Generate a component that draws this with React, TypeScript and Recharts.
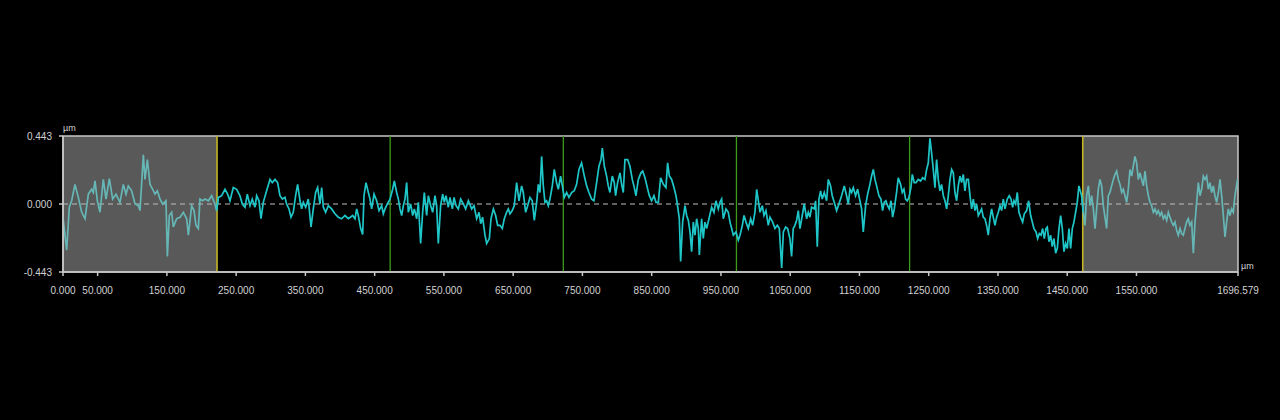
import React from "react";
import {
  ComposedChart,
  Line,
  XAxis,
  YAxis,
  ReferenceLine,
  ReferenceArea,
} from "recharts";

// Profile samples: [position µm, height µm]
const PROFILE_0_210: [number, number][] = [
  [0, -0.086], [5.3, -0.3], [9.1, -0.021], [12.5, 0.021], [17.3, 0.128], [22.1, 0.043],
  [27.0, -0.054], [31.8, -0.096], [36.6, 0.064], [41.4, 0.096], [43.8, 0.075], [46.2, 0.15],
  [49.6, 0.021], [53.4, -0.054], [58.2, 0.16], [62.1, 0.032], [66.9, 0.165], [71.7, 0.032],
  [76.5, 0.064], [82.3, 0.011], [87.1, 0.128], [91.0, 0.064], [94.3, 0.118], [99.1, 0.086],
  [104.0, 0], [108.8, -0.011], [111.2, -0.043], [116.0, 0.321], [118.4, 0.16], [121.8, 0.289],
  [125.6, 0.128], [129.5, 0.096], [132.8, 0.064], [136.2, 0.086], [140.1, 0.032], [143.9, 0],
  [148.7, 0.021], [150.7, -0.342], [153.5, -0.075], [156.9, -0.054], [159.3, -0.15],
  [164.1, -0.096], [169.0, -0.086], [173.8, -0.054], [178.6, -0.096], [181.0, -0.203],
  [185.8, -0.011], [189.2, -0.043], [192.0, -0.139], [195.4, -0.16], [197.8, 0.032],
  [201.7, 0.021], [205.0, 0.032], [209.9, 0.021],
];
const PROFILE_210_420: [number, number][] = [
  [214.6, 0.054], [219.4, 0], [221.8, -0.043], [224.3, 0.043], [229.1, 0.054], [233.9, 0.096],
  [237.7, 0.064], [241.1, 0.021], [245.9, 0.107], [250.7, 0.096], [255.5, 0.054], [258.9, 0],
  [262.8, -0.021], [266.1, 0.064], [270.0, -0.011], [273.3, 0.032], [277.2, -0.021],
  [279.6, 0.054], [283.0, 0.021], [285.9, -0.096], [289.2, 0.011], [294.0, 0.086],
  [298.9, 0.16], [302.2, 0.139], [306.1, 0.16], [309.9, 0.139], [313.3, 0.054], [316.7, 0.032],
  [320.5, 0.043], [322.9, 0], [326.3, -0.032], [329.2, -0.086], [332.5, -0.054], [335.9, 0.054],
  [338.8, 0.128], [342.2, 0.021], [344.6, -0.032], [347.0, 0.011], [350.4, -0.021],
  [354.2, 0.032], [358.1, -0.15], [361.4, -0.032], [364.8, 0.075], [367.7, 0.107], [371.0, 0],
  [373.5, 0.107], [375.9, -0.021], [379.2, -0.054], [383.1, -0.011], [387.9, -0.032],
  [392.7, -0.064], [397.5, -0.086], [402.3, -0.096], [407.1, -0.075], [412.0, -0.096],
];
const PROFILE_420_630: [number, number][] = [
  [418.3, -0.075], [421.6, -0.096], [424.0, -0.032], [426.4, -0.075], [429.8, -0.16],
  [432.7, -0.199], [434.6, 0.054], [437.5, 0.139], [440.9, 0.075], [443.3, 0.032],
  [445.7, -0.032], [449.1, 0.064], [452.9, 0.021], [456.3, -0.043], [460.1, -0.011],
  [462.5, -0.064], [465.0, -0.032], [468.3, 0], [472.2, 0.032], [476.0, 0.096], [478.4, 0.15],
  [481.8, 0.075], [484.2, 0.032], [486.6, -0.032], [489.0, -0.075], [491.4, -0.011],
  [493.8, 0.032], [496.2, 0.139], [498.6, -0.054], [502.0, 0], [504.9, -0.075], [507.3, -0.032],
  [510.7, -0.096], [513.1, 0.011], [516.4, -0.257], [519.3, -0.054], [521.7, 0.075],
  [525.1, -0.075], [527.5, 0.054], [530.9, -0.011], [533.8, -0.054], [537.1, 0.054],
  [539.5, -0.011], [541.9, -0.257], [545.3, -0.011], [548.2, 0.064], [550.6, 0.011],
  [553.0, 0.054], [556.4, -0.021], [558.8, 0.043], [562.2, -0.032], [564.6, 0.043],
  [567.5, -0.011], [570.8, -0.032], [574.2, 0.032], [578.0, 0], [581.4, -0.032], [585.3, 0.021],
  [590.1, -0.032], [593.4, -0.011], [597.3, -0.096], [600.7, -0.054], [603.1, -0.128],
  [605.9, -0.086], [609.3, -0.203], [611.7, -0.257], [615.6, -0.225], [618.0, -0.096],
  [621.4, -0.032], [624.7, -0.075], [627.6, -0.139],
];
const PROFILE_630_835: [number, number][] = [
  [630.9, -0.139], [634.3, -0.16], [637.2, -0.096], [640.5, -0.054], [643.0, -0.032],
  [645.4, -0.064], [648.7, -0.043], [651.6, -0.011], [655.0, 0.139], [658.4, 0.021],
  [662.2, 0.118], [664.6, 0.075], [668.0, -0.054], [670.9, -0.011], [674.2, 0.043],
  [677.6, 0.021], [680.5, -0.107], [683.9, 0.011], [686.3, 0.128], [688.7, 0.075], [691.1, 0.31],
  [693.5, 0.118], [695.9, 0.011], [698.3, 0.021], [700.7, -0.011], [703.1, 0.032],
  [706.5, 0.118], [709.4, 0.225], [712.7, 0.139], [715.2, 0.096], [718.5, 0.182], [721.4, 0.107],
  [723.8, 0.043], [727.2, 0.075], [730.5, 0.043], [734.4, 0.075], [738.2, 0.086], [741.6, 0.128],
  [745.0, 0.225], [748.8, 0.268], [752.7, 0.182], [756.1, 0.118], [759.4, 0.075], [763.3, 0.032],
  [766.6, 0.021], [770.5, 0.139], [773.9, 0.246], [776.8, 0.289], [778.7, 0.364], [781.6, 0.246],
  [784.9, 0.182], [787.3, 0.118], [789.7, 0.075], [793.1, 0.182], [796.0, 0.139], [797.9, 0.054],
  [800.8, 0.139], [804.2, 0.203], [806.6, 0.128], [809.0, 0.075], [811.4, 0.289], [815.3, 0.289],
  [818.6, 0.246], [822.0, 0.16], [824.9, 0.107], [827.3, 0.054], [830.7, 0.16], [834.5, 0.203],
];
const PROFILE_835_1045: [number, number][] = [
  [837.0, 0.214], [840.3, 0.171], [843.7, 0.107], [846.6, 0.054], [849.9, 0.021], [853.3, 0.054],
  [856.2, 0.011], [859.6, 0.011], [862.9, 0.171], [866.8, 0.128], [870.6, 0.107], [873.0, 0.268],
  [875.5, 0.182], [878.8, 0.16], [882.2, 0.107], [885.1, 0.054], [887.0, 0], [889.9, -0.096],
  [891.8, -0.375], [894.7, -0.118], [898.1, -0.011], [900.5, -0.075], [902.9, -0.107],
  [905.3, -0.182], [907.7, -0.31], [910.1, -0.118], [912.5, -0.203], [914.9, -0.096],
  [917.3, -0.16], [918.8, -0.332], [922.1, -0.096], [924.5, -0.225], [926.9, -0.118],
  [929.4, -0.16], [932.7, -0.096], [936.6, -0.021], [939.9, -0.054], [942.8, 0.021],
  [946.2, -0.032], [948.6, 0.011], [951.0, 0.032], [953.4, -0.096], [957.3, -0.032],
  [960.6, -0.054], [963.1, -0.118], [965.5, -0.16], [967.9, -0.203], [971.7, -0.182],
  [975.1, -0.235], [977.5, -0.203], [980.9, -0.139], [983.3, -0.075], [986.2, -0.118],
  [989.5, -0.16], [992.9, -0.096], [995.8, -0.139], [999.1, -0.054], [1001.6, 0.096],
  [1004.0, 0.021], [1006.4, -0.054], [1009.7, -0.011], [1012.1, -0.075], [1015.0, -0.043],
  [1018.4, -0.139], [1020.8, -0.086], [1024.7, -0.118], [1028.0, -0.16], [1031.4, -0.139],
  [1034.3, -0.16], [1037.7, -0.417], [1040.1, -0.182], [1043.4, -0.15],
];
const PROFILE_1045_1252: [number, number][] = [
  [1046.3, -0.16], [1049.6, -0.225], [1052.0, -0.342], [1054.4, -0.16], [1056.8, -0.139],
  [1059.2, -0.107], [1061.7, -0.043], [1064.1, -0.16], [1067.4, -0.075], [1070.3, 0],
  [1073.7, -0.096], [1076.1, -0.054], [1078.5, -0.086], [1080.9, -0.021], [1084.8, -0.032],
  [1086.7, 0.021], [1089.1, -0.278], [1091.5, 0.032], [1093.9, 0.086], [1096.3, 0.032],
  [1099.2, 0.075], [1102.6, 0.021], [1105.0, 0.16], [1108.3, 0.118], [1110.7, 0.054],
  [1113.6, 0.011], [1117.0, -0.043], [1120.4, 0], [1124.2, 0.054], [1128.1, 0.118],
  [1131.4, 0.054], [1133.9, 0], [1136.3, 0.096], [1138.7, 0.075], [1141.1, 0.107],
  [1144.4, 0.054], [1147.3, 0.096], [1150.7, 0.021], [1153.1, -0.032], [1155.5, -0.182],
  [1158.9, -0.011], [1161.8, 0.064], [1165.1, 0.128], [1167.5, 0.182], [1170.0, 0.225],
  [1172.4, 0.16], [1174.8, 0.118], [1178.1, 0.054], [1181.0, 0.032], [1183.4, -0.043],
  [1185.8, 0.011], [1188.2, 0.021], [1190.6, -0.011], [1193.0, -0.032], [1195.5, 0.021],
  [1197.9, -0.086], [1200.3, -0.032], [1203.6, 0.075], [1206.0, 0.171], [1209.4, 0.128],
  [1211.8, 0.075], [1214.2, 0.096], [1216.6, 0.032], [1219.0, 0.021], [1221.5, 0.043],
  [1224.3, 0.107], [1226.3, 0.193], [1229.1, 0.139], [1231.6, 0.139], [1234.9, 0.16],
  [1238.3, 0.15], [1241.2, 0.171], [1244.5, 0.16], [1247.0, 0.225], [1249.4, 0.268],
  [1251.8, 0.428],
];
const PROFILE_1252_1470: [number, number][] = [
  [1254.2, 0.332], [1256.6, 0.225], [1259.0, 0.107], [1261.4, 0.289], [1263.8, 0.16],
  [1266.2, 0.086], [1268.6, 0.128], [1271.1, 0.054], [1273.5, 0.021], [1275.9, -0.032],
  [1278.3, 0.054], [1280.7, 0.16], [1283.1, 0.225], [1285.5, 0.203], [1287.9, 0.075],
  [1290.3, 0.021], [1292.7, 0.118], [1295.1, 0.182], [1297.5, 0.139], [1299.9, 0.193],
  [1302.3, 0.086], [1304.7, 0.16], [1307.2, 0.16], [1309.6, 0.054], [1312.0, -0.032],
  [1314.4, 0.032], [1316.8, -0.043], [1319.2, 0], [1321.6, -0.075], [1324.0, -0.054],
  [1326.4, -0.032], [1328.8, -0.086], [1331.2, -0.096], [1333.6, -0.139], [1336.0, -0.203],
  [1338.4, -0.096], [1340.8, -0.032], [1343.2, -0.086], [1345.7, -0.139], [1348.1, -0.086],
  [1350.5, -0.054], [1352.9, -0.011], [1355.3, -0.043], [1357.7, 0.032], [1360.1, -0.032],
  [1363.5, 0.032], [1366.3, 0.054], [1368.8, 0.032], [1371.2, -0.021], [1373.1, 0.021],
  [1375.5, 0], [1377.9, 0.075], [1380.3, -0.054], [1382.7, -0.086], [1385.6, -0.118],
  [1388.0, -0.064], [1391.4, -0.043], [1394.3, 0.021], [1397.2, -0.075], [1399.6, -0.118],
  [1402.0, -0.16], [1404.9, -0.182], [1407.3, -0.225], [1409.7, -0.193], [1412.1, -0.203],
  [1414.5, -0.16], [1416.9, -0.225], [1419.3, -0.16], [1421.2, -0.15], [1423.6, -0.246],
  [1426.0, -0.203], [1428.4, -0.278], [1430.8, -0.225], [1433.3, -0.321], [1435.7, -0.289],
  [1438.1, -0.16], [1440.5, -0.075], [1442.9, -0.16], [1445.3, -0.31], [1447.7, -0.257],
  [1450.1, -0.289], [1452.5, -0.16], [1454.9, -0.289], [1457.3, -0.16], [1459.7, -0.118],
  [1462.1, -0.054], [1464.5, 0.011], [1466.9, 0.118],
];
const PROFILE_1470_END: [number, number][] = [
  [1470.8, 0.054], [1473.2, -0.054], [1475.6, -0.139], [1478.0, 0.054], [1480.5, 0.118],
  [1482.9, -0.011], [1485.3, 0.054], [1487.7, -0.032], [1490.1, -0.16], [1492.5, -0.032],
  [1494.9, 0.096], [1497.3, 0.16], [1499.7, 0.118], [1502.1, -0.011], [1504.5, -0.086],
  [1506.9, -0.16], [1509.3, 0.054], [1511.7, 0.075], [1514.1, 0.118], [1516.6, 0.16],
  [1519.0, 0.193], [1521.4, 0.214], [1523.8, 0.16], [1526.2, 0.128], [1528.6, 0.075],
  [1531.0, 0.096], [1533.4, 0.054], [1535.8, 0.011], [1538.2, 0.096], [1540.6, 0.225],
  [1543.0, 0.182], [1545.4, 0.246], [1547.8, 0.31], [1550.2, 0.268], [1552.6, 0.16],
  [1555.1, 0.203], [1557.5, 0.16], [1559.9, 0.118], [1562.3, 0.214], [1564.7, 0.118],
  [1567.1, 0.054], [1569.5, 0.011], [1571.9, -0.011], [1574.3, -0.054], [1576.7, -0.032],
  [1579.1, -0.064], [1581.5, -0.043], [1583.9, -0.075], [1586.3, -0.054], [1588.7, -0.096],
  [1591.1, -0.075], [1593.6, -0.107], [1596.0, -0.054], [1598.4, -0.086], [1600.8, -0.118],
  [1603.2, -0.139], [1605.6, -0.118], [1608.0, -0.171], [1610.4, -0.203], [1612.8, -0.16],
  [1615.2, -0.193], [1617.6, -0.203], [1620.0, -0.16], [1622.4, -0.118], [1624.8, -0.096],
  [1627.2, -0.139], [1629.7, -0.118], [1632.1, -0.321], [1634.5, -0.118], [1636.9, 0.011],
  [1639.3, 0.139], [1641.7, 0.054], [1644.1, 0.096], [1646.5, 0.182], [1648.9, 0.16],
  [1651.3, 0.182], [1653.7, 0.096], [1656.1, 0.139], [1658.5, 0.075], [1660.9, 0.118],
  [1663.3, 0.054], [1665.8, 0.011], [1668.2, 0.075], [1670.6, 0.16], [1673.0, 0.054],
  [1675.4, -0.075], [1677.8, -0.214], [1680.2, -0.118], [1682.6, -0.032], [1685.0, -0.075],
  [1687.4, -0.032], [1689.8, -0.054], [1692.2, 0.054], [1695.6, 0.15], [1696.579, 0.139],
];

const X_MAX = 1696.579;
const Z_LIMIT = 0.443;
const CUTOFF_LEFT = 222.4;
const CUTOFF_RIGHT = 1472.4;
const SAMPLING_LINES = [472.4, 722.4, 972.4, 1222.4];
const X_TICKS = [0, 50, 150, 250, 350, 450, 550, 650, 750, 850, 950, 1050, 1150, 1250, 1350, 1450, 1550, X_MAX];
const Y_TICKS = [Z_LIMIT, 0, -Z_LIMIT];
const UNIT = "µm";

const ALL_POINTS = [
  ...PROFILE_0_210,
  ...PROFILE_210_420,
  ...PROFILE_420_630,
  ...PROFILE_630_835,
  ...PROFILE_835_1045,
  ...PROFILE_1045_1252,
  ...PROFILE_1252_1470,
  ...PROFILE_1470_END,
];

const firstMain = ALL_POINTS.findIndex((p) => p[0] >= CUTOFF_LEFT);
let lastMain = ALL_POINTS.length - 1;
for (let i = ALL_POINTS.length - 1; i >= 0; i--) {
  if (ALL_POINTS[i][0] <= CUTOFF_RIGHT) {
    lastMain = i;
    break;
  }
}

const data = ALL_POINTS.map(([x, z], i) => ({
  x,
  main: i >= firstMain - 1 && i <= lastMain + 1 ? z : null,
  edge: i <= firstMain || i >= lastMain ? z : null,
}));

const AXIS_COLOR = "#c8c8c8";
const TEXT_COLOR = "#d2d2d2";
const FONT = "'Liberation Sans', Arial, sans-serif";

export default function App() {
  return (
    <div style={{ position: "fixed", left: 0, top: 0, width: 1280, height: 420, background: "#000" }}>
      <div style={{ position: "absolute", left: 0, top: 0 }}>
        <ComposedChart
          width={1280}
          height={310}
          data={data}
          margin={{ top: 136, right: 42, left: 0, bottom: 8 }}
        >
          <XAxis
            dataKey="x"
            type="number"
            domain={[0, X_MAX]}
            ticks={X_TICKS}
            interval={0}
            tickFormatter={(v: number) => v.toFixed(3)}
            stroke={AXIS_COLOR}
            strokeWidth={1.5}
            tick={{ fill: TEXT_COLOR, fontSize: 10, fontFamily: FONT }}
            tickSize={4}
            tickMargin={11}
            height={30}
            allowDataOverflow
          />
          <YAxis
            type="number"
            domain={[-Z_LIMIT, Z_LIMIT]}
            ticks={Y_TICKS}
            interval={0}
            tickFormatter={(v: number) => v.toFixed(3)}
            stroke={AXIS_COLOR}
            strokeWidth={1.5}
            tick={{ fill: TEXT_COLOR, fontSize: 10, fontFamily: FONT }}
            tickSize={4}
            tickMargin={7}
            width={63}
            allowDataOverflow
          />
          <ReferenceArea x1={0} x2={CUTOFF_LEFT} y1={-Z_LIMIT} y2={Z_LIMIT} fill="#595959" fillOpacity={1} stroke="none" />
          <ReferenceArea x1={CUTOFF_RIGHT} x2={X_MAX} y1={-Z_LIMIT} y2={Z_LIMIT} fill="#595959" fillOpacity={1} stroke="none" />
          <ReferenceLine y={0} stroke="#bdbdbd" strokeDasharray="5 4" strokeWidth={1.2} />
          {SAMPLING_LINES.map((x) => (
            <ReferenceLine key={x} x={x} stroke="#3f9a1c" strokeWidth={1.3} />
          ))}
          <ReferenceLine x={CUTOFF_LEFT} stroke="#c4b426" strokeWidth={1.6} />
          <ReferenceLine x={CUTOFF_RIGHT} stroke="#c4b426" strokeWidth={1.6} />
          <Line
            dataKey="edge"
            type="linear"
            stroke="#66b6b6"
            strokeWidth={1.7}
            dot={false}
            isAnimationActive={false}
            connectNulls={false}
          />
          <Line
            dataKey="main"
            type="linear"
            stroke="#1fc6c8"
            strokeWidth={1.7}
            dot={false}
            isAnimationActive={false}
            connectNulls={false}
          />
          <ReferenceArea
            x1={0}
            x2={X_MAX}
            y1={-Z_LIMIT}
            y2={Z_LIMIT}
            fill="none"
            stroke={AXIS_COLOR}
            strokeWidth={1.5}
          />
        </ComposedChart>
      </div>
      <span
        style={{
          position: "absolute",
          left: 63,
          top: 123,
          fontSize: 9,
          lineHeight: "10px",
          color: TEXT_COLOR,
          fontFamily: FONT,
        }}
      >
        {UNIT}
      </span>
      <span
        style={{
          position: "absolute",
          left: 1241,
          top: 261,
          fontSize: 9,
          lineHeight: "10px",
          color: TEXT_COLOR,
          fontFamily: FONT,
        }}
      >
        {UNIT}
      </span>
    </div>
  );
}
